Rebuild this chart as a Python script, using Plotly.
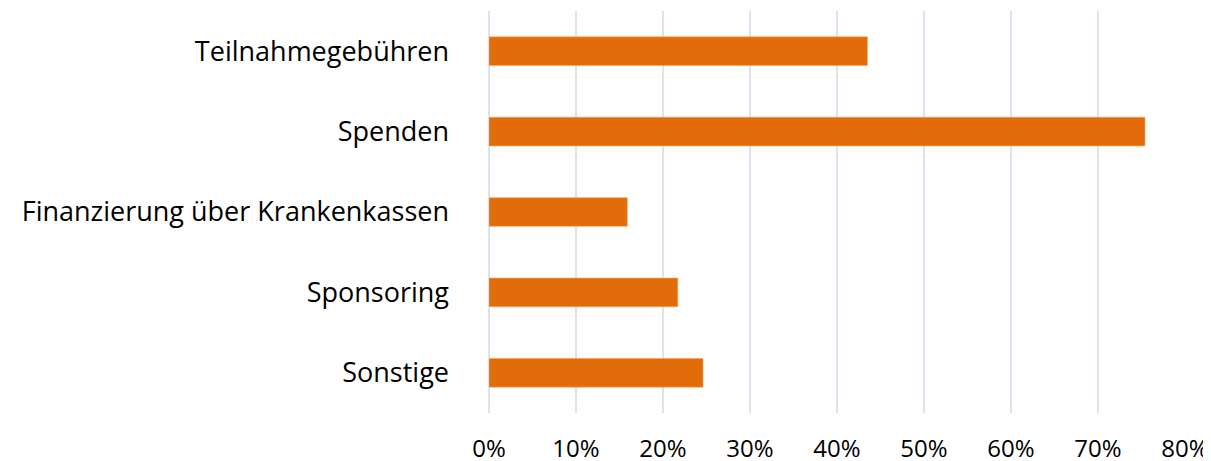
import plotly.graph_objects as go

categories = ["Teilnahmegebühren", "Spenden", "Finanzierung über Krankenkassen", "Sponsoring", "Sonstige"]
values = [0.435, 0.754, 0.159, 0.217, 0.246]
tick_vals = [0, 0.1, 0.2, 0.3, 0.4, 0.5, 0.6, 0.7, 0.8]
tick_text = ["0%", "10%", "20%", "30%", "40%", "50%", "60%", "70%", "80%"]

fig = go.Figure(go.Bar(
    y=categories, x=values, orientation="h",
    marker=dict(color="#E36C0A", line=dict(color="#F4A460", width=0.6)),
))
fig.update_layout(
    width=1203, height=453,
    margin=dict(l=481, r=26, t=3, b=48, autoexpand=False),
    paper_bgcolor="white", plot_bgcolor="white",
    bargap=0.643,
    showlegend=False,
    font=dict(family="Open Sans", size=24, color="#000000"),
)
fig.update_xaxes(
    range=[0, 0.8], tickvals=tick_vals, ticktext=tick_text,
    showgrid=True, gridcolor="#DCE3EE", gridwidth=2,
    zeroline=True, zerolinecolor="#DCE3EE", zerolinewidth=2,
    showline=False, ticks="",
    ticklabelstandoff=19,
    tickfont=dict(size=24),
    automargin=False,
)
fig.update_yaxes(
    categoryorder="array", categoryarray=categories, autorange="reversed",
    showgrid=False, zeroline=False, showline=False, ticks="",
    ticklabelstandoff=39,
    tickfont=dict(size=27),
    automargin=False,
)
fig.write_html("out.html")
